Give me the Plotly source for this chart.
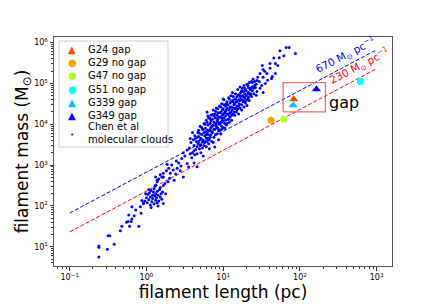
import numpy as np
import plotly.graph_objects as go

# ---------------- data ----------------
fil_names = ["G24 gap", "G29 no gap", "G47 no gap", "G51 no gap", "G339 gap", "G349 gap"]
fil_length = [83, 42, 61.5, 614, 81.5, 164]          # pc
fil_mass = [4.1e4, 1.25e4, 1.33e4, 1.12e5, 2.9e4, 7.2e4]  # Msun
fil_colors = ["#FF4500", "#FFA500", "#ADFF2F", "#00FFFF", "#00BFFF", "#0000FF"]
fil_symbols = ["triangle-up", "circle", "circle", "circle", "triangle-up", "triangle-up"]

# reference lines: mass per unit length (Msun/pc)
line_mlin = [670, 230]
line_colors = ["blue", "red"]
line_length_span = [0.1, 1000]

# "gap" box (pc, Msun)
gap_box_length = [60.4, 215]
gap_box_mass = [2.0e4, 1.05e5]

# Chen et al molecular clouds as (log10 L [pc], log10 M [Msun])
chen_tail = [(-0.62, 0.75), (-0.62, 0.99), (-0.62, 1.02), (-0.51, 0.94), (-0.42, 1.06), (-0.50, 1.27),
             (-0.48, 1.27), (-0.34, 1.39), (-0.32, 1.50), (-0.26, 1.60), (-0.22, 1.50), (-0.24, 1.62),
             (-0.20, 1.62), (-0.10, 1.50), (-0.19, 1.68), (-0.16, 1.76), (-0.23, 1.78), (-0.07, 1.82),
             (-0.14, 1.90), (-0.19, 1.98), (-0.08, 1.98), (-0.04, 2.07), (-0.06, 2.13)]
chen_cluster = [(-0.04, 2.05), (-0.02, 2.12), (0.00, 2.20), (0.01, 2.08), (0.02, 2.28), (0.03, 2.15),
                (0.04, 2.32), (0.05, 2.02), (0.05, 2.22), (0.06, 2.38), (0.07, 2.10), (0.08, 2.26),
                (0.08, 2.18), (0.09, 2.34), (0.10, 2.05), (0.10, 2.42), (0.11, 2.24), (0.12, 2.14),
                (0.12, 2.30), (0.13, 2.20), (0.14, 2.36), (0.15, 2.00), (0.15, 2.26), (0.16, 2.12),
                (0.17, 2.40), (0.18, 2.22), (0.19, 2.30), (0.20, 2.16), (0.21, 2.34), (0.22, 2.06),
                (0.03, 2.40), (-0.01, 2.30), (0.06, 1.96), (0.11, 2.48), (0.18, 2.45), (0.14, 2.08),
                (0.25, 2.30), (0.22, 2.50)]
chen_mid = [(0.12, 2.51), (0.14, 2.63), (0.20, 2.71), (0.22, 2.80), (0.28, 2.59), (0.16, 2.66),
            (0.14, 2.59), (0.18, 2.76), (0.12, 2.71), (0.22, 2.71), (0.31, 2.80), (0.40, 2.92),
            (0.29, 2.92), (0.36, 2.63), (0.48, 2.71), (0.26, 2.86), (0.33, 3.00), (0.24, 2.55),
            (0.30, 2.68), (0.38, 2.78), (0.42, 3.05), (0.35, 2.88), (0.27, 3.02), (0.44, 2.86),
            (0.46, 3.16), (0.53, 3.04), (0.57, 3.28), (0.53, 3.37), (0.50, 3.22), (0.39, 3.10),
            (0.45, 2.98), (0.55, 2.95), (0.62, 3.05), (0.66, 2.96), (0.48, 3.30), (0.74, 3.22)]
chen_band = [(0.56, 3.42), (0.58, 3.55), (0.60, 3.30), (0.61, 3.62), (0.62, 3.48), (0.63, 3.72),
             (0.64, 3.38), (0.65, 3.58), (0.59, 3.18), (0.57, 3.65), (0.63, 3.25), (0.66, 3.45),
             (0.60, 3.80), (0.66, 3.68), (0.67, 3.52), (0.68, 3.85), (0.69, 3.40), (0.70, 3.62),
             (0.70, 3.95), (0.71, 3.30), (0.72, 3.75), (0.73, 3.56), (0.73, 3.88), (0.74, 3.61),
             (0.75, 3.48), (0.75, 4.02), (0.68, 3.70), (0.71, 3.50), (0.72, 3.92), (0.67, 3.80),
             (0.76, 3.72), (0.77, 3.58), (0.77, 3.90), (0.78, 4.10), (0.78, 3.45), (0.79, 3.80),
             (0.79, 4.30), (0.80, 3.66), (0.80, 3.98), (0.81, 3.52), (0.81, 4.15), (0.82, 3.84),
             (0.82, 3.62), (0.83, 4.02), (0.83, 3.87), (0.84, 3.74), (0.84, 4.22), (0.85, 3.95),
             (0.85, 3.58), (0.76, 4.00), (0.78, 3.66), (0.80, 4.20), (0.82, 3.40), (0.84, 4.08),
             (0.86, 4.12), (0.86, 3.80), (0.87, 3.98), (0.87, 4.35), (0.88, 3.68), (0.88, 4.05),
             (0.89, 3.88), (0.89, 4.25), (0.90, 3.75), (0.90, 4.15), (0.91, 3.95), (0.91, 4.40),
             (0.92, 3.77), (0.92, 4.08), (0.93, 3.90), (0.93, 4.28), (0.94, 3.62), (0.94, 4.18),
             (0.95, 4.00), (0.95, 4.45), (0.87, 3.55), (0.89, 3.44), (0.91, 4.02), (0.93, 4.12),
             (0.96, 4.18), (0.96, 3.85), (0.97, 4.30), (0.97, 4.05), (0.98, 3.95), (0.98, 4.50),
             (0.99, 4.22), (0.99, 4.10), (1.00, 4.38), (1.00, 3.92), (1.01, 4.15), (1.01, 4.60),
             (1.02, 4.28), (1.02, 4.02), (1.03, 4.44), (1.03, 4.20), (1.04, 3.98), (1.04, 4.35),
             (1.05, 4.02), (1.05, 4.55), (0.97, 3.76), (1.00, 4.62), (1.02, 3.90),
             (1.06, 4.25), (1.06, 4.48), (1.07, 4.12), (1.07, 4.65), (1.08, 4.38), (1.08, 4.20),
             (1.09, 4.18), (1.09, 4.52), (1.10, 4.30), (1.10, 4.70), (1.11, 4.42), (1.11, 4.10),
             (1.12, 4.58), (1.12, 4.35), (1.13, 4.25), (1.13, 4.68), (1.14, 4.48), (1.14, 4.30),
             (1.15, 4.62), (1.15, 4.22), (1.08, 4.05), (1.12, 4.78),
             (1.16, 4.40), (1.16, 4.75), (1.17, 4.55), (1.17, 4.30), (1.18, 4.68), (1.18, 4.45),
             (1.19, 4.85), (1.19, 4.38), (1.20, 4.60), (1.20, 4.25), (1.21, 4.72), (1.21, 4.50),
             (1.22, 4.91), (1.22, 4.40), (1.23, 4.62), (1.23, 4.78), (1.24, 4.48), (1.24, 4.35),
             (1.25, 4.70), (1.25, 4.88),
             (1.26, 4.55), (1.26, 4.80), (1.27, 4.42), (1.27, 4.95), (1.28, 4.65), (1.29, 4.52),
             (1.29, 4.85), (1.30, 4.70), (1.31, 4.46), (1.31, 4.98), (1.32, 4.62), (1.32, 4.95),
             (1.33, 4.78), (1.34, 4.58), (1.34, 5.02), (1.35, 4.72), (1.29, 4.83), (1.33, 4.90),
             (1.36, 4.88), (1.37, 4.68), (1.37, 5.05), (1.38, 4.82), (1.39, 5.11), (1.40, 4.75),
             (1.41, 4.95), (1.42, 4.90), (1.43, 4.71), (1.44, 5.07), (1.44, 4.80), (1.45, 5.15),
             (1.38, 5.02)]
chen_band_extra = [(0.62, 3.35), (0.64, 3.66), (0.66, 3.28), (0.68, 3.58), (0.69, 3.78), (0.71, 3.66),
                   (0.73, 3.42), (0.75, 3.80), (0.76, 3.55), (0.77, 3.82), (0.79, 3.58), (0.79, 4.05),
                   (0.80, 3.85), (0.81, 3.74), (0.83, 3.68), (0.83, 4.14), (0.85, 3.82), (0.86, 3.96),
                   (0.86, 4.24), (0.88, 3.88), (0.88, 4.20), (0.90, 3.98), (0.90, 4.32), (0.92, 3.92),
                   (0.92, 4.22), (0.94, 4.05), (0.94, 3.84), (0.96, 4.28), (0.96, 4.02), (0.98, 4.15),
                   (0.98, 3.88), (1.00, 4.05), (1.00, 4.25), (1.01, 4.48), (1.03, 4.10), (1.03, 4.32),
                   (1.05, 4.25), (1.05, 4.40), (1.06, 4.12), (1.07, 4.35), (1.09, 4.42), (1.09, 4.28),
                   (1.10, 4.55), (1.11, 4.22), (1.13, 4.40), (1.13, 4.55), (1.15, 4.38), (1.15, 4.50),
                   (1.16, 4.62), (1.18, 4.55), (1.18, 4.35), (1.20, 4.72), (1.20, 4.45), (1.22, 4.58),
                   (1.22, 4.68), (1.24, 4.60), (1.24, 4.82), (1.26, 4.68), (1.27, 4.58), (1.28, 4.75),
                   (1.28, 4.88), (1.30, 4.58), (1.30, 4.82), (1.32, 4.75), (1.33, 4.66), (1.35, 4.85),
                   (1.36, 4.75), (1.38, 4.92), (1.40, 4.88), (1.41, 5.05), (1.43, 4.98), (0.97, 4.42),
                   (0.99, 4.35), (1.04, 4.50), (1.08, 4.62), (0.93, 4.38), (0.84, 3.92), (0.78, 3.74),
                   (0.74, 3.88), (0.70, 3.48)]
chen_upper = [(1.82, 5.88), (1.86, 5.88), (1.74, 5.80), (1.94, 5.73), (1.79, 5.68), (1.73, 5.63),
              (1.61, 5.49), (1.68, 5.49), (1.71, 5.44), (1.51, 5.44), (1.52, 5.34), (1.61, 5.37),
              (1.48, 5.24), (1.57, 5.24), (1.68, 5.24), (1.52, 5.15), (1.64, 5.17), (1.55, 5.00),
              (1.48, 4.88), (1.52, 4.78), (1.29, 4.83), (1.47, 5.05), (1.58, 5.08), (1.50, 4.95),
              (1.66, 5.62), (1.54, 5.30), (1.63, 5.12)]

x_tick_vals = [0.1, 1, 10, 100, 1000]
x_tick_text = ["10<sup>−1</sup>", "10<sup>0</sup>", "10<sup>1</sup>", "10<sup>2</sup>", "10<sup>3</sup>"]
y_tick_vals = [10, 100, 1e3, 1e4, 1e5, 1e6]
y_tick_text = ["10<sup>1</sup>", "10<sup>2</sup>", "10<sup>3</sup>", "10<sup>4</sup>", "10<sup>5</sup>", "10<sup>6</sup>"]

legend_labels = fil_names + ["Chen et al<br>molecular clouds"]
legend_glyphs = ["▲", "●", "●", "●", "▲", "▲", "•"]
legend_colors = fil_colors + ["blue"]

# ---------------- figure ----------------
FONT = "DejaVu Sans"
W, H = 436, 305
ML, MR, MT, MB = 54, 44, 37, 39
PW, PH = W - ML - MR, H - MT - MB

chen_all = chen_tail + chen_cluster + chen_mid + chen_band + chen_band_extra + chen_upper
chen_L = 10 ** np.array([p[0] for p in chen_all])
chen_M = 10 ** np.array([p[1] for p in chen_all])

fig = go.Figure()

Ls = np.array(line_length_span)
for mlin, col in zip(line_mlin, line_colors):
    fig.add_trace(go.Scatter(x=Ls, y=mlin * Ls, mode="lines", showlegend=False,
                             line=dict(color=col, width=1, dash="4px,2px")))

fig.add_trace(go.Scatter(x=chen_L, y=chen_M, mode="markers", showlegend=False,
                         marker=dict(color="blue", size=3, line=dict(width=0))))

for n, L, M, c, s in zip(fil_names, fil_length, fil_mass, fil_colors, fil_symbols):
    fig.add_trace(go.Scatter(x=[L], y=[M], mode="markers", name=n, showlegend=False,
                             marker=dict(color=c, symbol=s, size=8 if s == "triangle-up" else 7,
                                         line=dict(width=0))))

bx0, bx1 = gap_box_length
by0, by1 = gap_box_mass
fig.add_trace(go.Scatter(x=[bx0, bx1, bx1, bx0, bx0], y=[by0, by0, by1, by1, by0], mode="lines",
                         showlegend=False, line=dict(color="rgba(240,80,80,0.85)", width=1.3)))

annotations = []
annotations.append(dict(x=np.log10(222), y=4.523, xref="x", yref="y", text="gap", showarrow=False,
                        xanchor="left", yanchor="middle", font=dict(family=FONT, size=16, color="black")))
annotations.append(dict(x=2.60, y=5.69, xref="x", yref="y", textangle=-27, showarrow=False,
                        text="670 M<sub>⊙</sub> pc<sup>−1</sup>",
                        font=dict(family=FONT, size=10.5, color="blue")))
annotations.append(dict(x=2.78, y=5.42, xref="x", yref="y", textangle=-27, showarrow=False,
                        text="230 M<sub>⊙</sub> pc<sup>−1</sup>",
                        font=dict(family=FONT, size=10.5, color="red")))


def px2paper(px, py):
    return (px - ML) / PW, (H - MB - py) / PH


# custom legend
shapes = []
lx0, ly1 = px2paper(59, 41)
lx1, ly0 = px2paper(168, 147)
shapes.append(dict(type="rect", xref="paper", yref="paper", x0=lx0, x1=lx1, y0=ly0, y1=ly1,
                   line=dict(color="#d0d0d0", width=1), fillcolor="rgba(255,255,255,0.85)", layer="above"))
row_px = [49.3 + i * 13.25 for i in range(6)] + [133]
for i, (lab, g, c) in enumerate(zip(legend_labels, legend_glyphs, legend_colors)):
    gx, gy = px2paper(72, row_px[i] + (1.5 if i == 6 else 0))
    tx, ty = px2paper(86, row_px[i])
    annotations.append(dict(x=gx, y=gy, xref="paper", yref="paper", text=g, showarrow=False,
                            xanchor="center", yanchor="middle",
                            font=dict(family=FONT, size=10 if g != "•" else 7, color=c)))
    annotations.append(dict(x=tx, y=ty, xref="paper", yref="paper", text=lab, showarrow=False,
                            xanchor="left", yanchor="middle", align="left",
                            font=dict(family=FONT, size=10, color="black")))

minor_vals = [m * 10.0 ** e for e in range(-2, 7) for m in range(2, 10)]

axis_common = dict(type="log", showgrid=False, zeroline=False, showline=True, linecolor="#555",
                   linewidth=1, mirror=True, ticks="outside", ticklen=3.5, tickwidth=0.8,
                   tickcolor="#333", tickfont=dict(family=FONT, size=8, color="black"),
                   automargin=False,
                   minor=dict(ticks="outside", ticklen=2, tickwidth=0.6, tickcolor="#333",
                              tickmode="array", tickvals=minor_vals, showgrid=False))

fig.update_layout(
    width=W, height=H, margin=dict(l=ML, r=MR, t=MT, b=MB),
    paper_bgcolor="white", plot_bgcolor="white",
    font=dict(family=FONT, color="black"),
    showlegend=False,
    xaxis=dict(axis_common, range=[-1.205, 3.2], tickmode="array", tickvals=x_tick_vals,
               ticktext=x_tick_text,
               title=dict(text="filament length (pc)", font=dict(family=FONT, size=17), standoff=0)),
    yaxis=dict(axis_common, range=[0.528, 6.137], tickmode="array", tickvals=y_tick_vals,
               ticktext=y_tick_text,
               title=dict(text="filament mass (M<sub>⊙</sub>)", font=dict(family=FONT, size=17), standoff=1)),
    annotations=annotations, shapes=shapes,
)

fig.write_html("out.html", config={"displayModeBar": False},
               post_script="document.body.style.margin='0';")
